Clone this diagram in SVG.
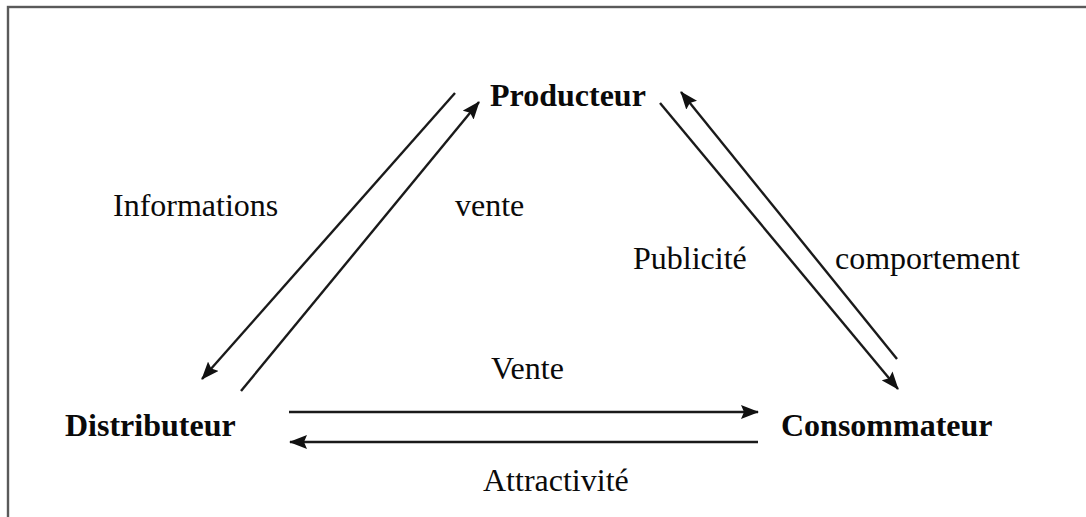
<svg xmlns="http://www.w3.org/2000/svg" width="1086" height="517" viewBox="0 0 1086 517">
<style>
.node{font-family:"Liberation Serif","Times New Roman",serif;font-weight:bold;font-size:32px;fill:#0a0a0a}
.lbl{font-family:"Liberation Serif","Times New Roman",serif;font-size:32px;fill:#0a0a0a}
.c{stroke:#1a1a1a;stroke-width:2.4;fill:none}
</style>
<defs>
<marker id="ah" viewBox="0 0 18 14" refX="17" refY="7" markerWidth="18" markerHeight="14" markerUnits="userSpaceOnUse" orient="auto">
<path d="M0,0 L18,7 L0,14 L3,7 Z" fill="#111"/>
</marker>
</defs>
<rect x="8" y="7" width="1200" height="700" fill="#fff" stroke="#5a5a5a" stroke-width="2.4"/>
<g id="connectors">
<line class="c" x1="455" y1="93" x2="202" y2="379" marker-end="url(#ah)"/>
<line class="c" x1="241" y1="391" x2="479" y2="102" marker-end="url(#ah)"/>
<line class="c" x1="660" y1="103" x2="898" y2="389" marker-end="url(#ah)"/>
<line class="c" x1="897" y1="359" x2="681" y2="92" marker-end="url(#ah)"/>
<line class="c" x1="289" y1="412" x2="758" y2="412" marker-end="url(#ah)"/>
<line class="c" x1="758" y1="442" x2="290" y2="442" marker-end="url(#ah)"/>
</g>
<g id="labels">
<text class="lbl" x="113" y="216">Informations</text>
<text class="lbl" x="455" y="216">vente</text>
<text class="lbl" x="633" y="269">Publicité</text>
<text class="lbl" x="835" y="269">comportement</text>
<text class="lbl" x="491" y="379">Vente</text>
<text class="lbl" x="483" y="491">Attractivité</text>
</g>
<g id="producteur"><text class="node" x="490" y="106">Producteur</text></g>
<g id="distributeur"><text class="node" x="65" y="436">Distributeur</text></g>
<g id="consommateur"><text class="node" x="781" y="436">Consommateur</text></g>
</svg>
